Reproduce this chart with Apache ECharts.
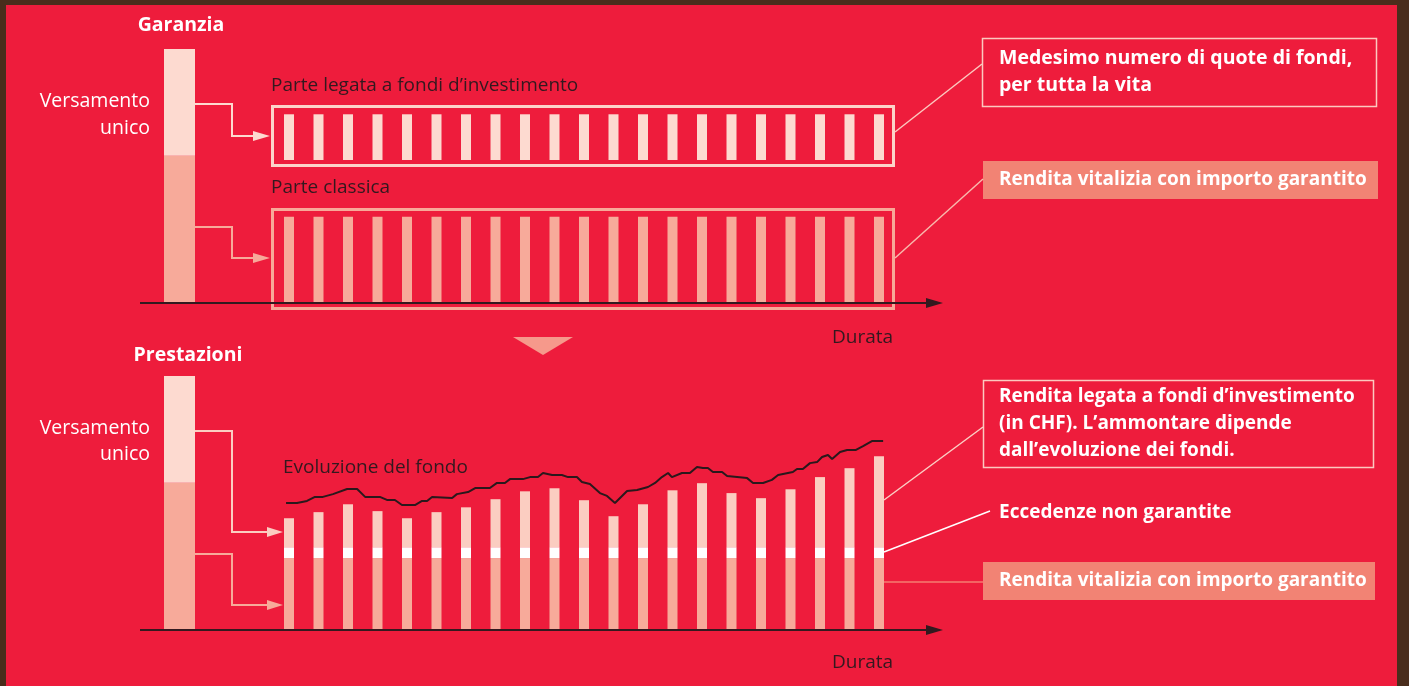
<!DOCTYPE html>
<html>
<head>
<meta charset="utf-8">
<title>Garanzia e prestazioni</title>
<script src="https://cdn.jsdelivr.net/npm/echarts@6/dist/echarts.min.js"></script>
<style>
  html, body { margin: 0; padding: 0; background: #4a2d1c; }
  #main { width: 1409px; height: 686px; }
</style>
</head>
<body>
<div id="main"></div>
<script>
var years = ['1','2','3','4','5','6','7','8','9','10','11','12','13','14','15','16','17','18','19','20','21'];

// versamento unico: parte classica + parte fondi
var singleClassic = [58];
var singleFund = [42];

// garanzia
var classicRent = [34,34,34,34,34,34,34,34,34,34,34,34,34,34,34,34,34,34,34,34,34];
var fundUnits = [18,18,18,18,18,18,18,18,18,18,18,18,18,18,18,18,18,18,18,18,18];

// prestazioni
var guaranteed = [28.3,28.3,28.3,28.3,28.3,28.3,28.3,28.3,28.3,28.3,28.3,28.3,28.3,28.3,28.3,28.3,28.3,28.3,28.3,28.3,28.3];
var surplus = [4.3,4.3,4.3,4.3,4.3,4.3,4.3,4.3,4.3,4.3,4.3,4.3,4.3,4.3,4.3,4.3,4.3,4.3,4.3,4.3,4.3];
var fundRent = [11.4,13.8,16.9,14.2,11.4,13.8,15.7,18.9,22.0,23.2,18.5,12.2,16.9,22.4,25.2,21.3,19.3,22.8,27.6,31.1,35.8];

// evoluzione del fondo [anno, valore]
var fundPath = [
  [-0.10,50.0],[0.27,50.0],[0.61,50.8],[0.88,52.4],[1.15,52.4],[1.49,53.5],[1.97,55.5],[2.31,55.5],
  [2.58,52.4],[3.08,52.4],[3.32,51.2],[3.59,51.2],[3.83,49.2],[4.27,49.2],[4.51,50.8],[4.68,50.8],
  [4.85,52.4],[5.53,52.0],[5.69,53.5],[6.07,54.3],[6.31,55.9],[6.81,55.9],[7.05,57.9],[7.32,57.9],
  [7.49,59.4],[7.93,59.4],[8.17,60.2],[8.44,60.2],[8.61,61.8],[8.92,61.0],[9.25,61.0],[9.46,60.2],
  [9.76,60.2],[9.93,58.3],[10.20,57.5],[10.54,53.9],[10.78,52.8],[11.05,50.0],[11.46,54.7],[11.80,55.1],
  [12.17,56.3],[12.41,57.9],[12.64,60.2],[12.85,61.8],[12.98,60.2],[13.32,61.8],[13.59,61.8],[13.83,64.2],
  [14.03,63.8],[14.20,63.8],[14.37,62.2],[14.68,62.2],[14.85,60.6],[15.53,59.8],[15.73,57.9],[16.07,57.9],
  [16.37,59.1],[16.58,61.0],[17.08,62.2],[17.22,63.4],[17.42,63.4],[17.66,65.7],[17.90,66.1],[18.07,68.1],
  [18.27,68.9],[18.41,67.3],[18.68,70.1],[18.92,70.9],[19.22,70.9],[19.46,72.4],[19.76,74.4],[20.14,74.4]
];

var fundUnitsBase = 56.3;

var RED = '#ee1c3c';
var LIGHT = '#fddad0';
var LIGHT2 = '#fbcdc1';
var SALMON = '#f7aa9a';
var BOXFILL = '#f28374';
var DARK = '#33191f';
var FONT = "'Open Sans', sans-serif";

var chart = echarts.init(document.getElementById('main'), null, { renderer: 'canvas' });

function hiddenCat(grid) {
  return { type: 'category', gridIndex: grid, data: null, show: false, boundaryGap: true };
}
function hiddenVal(grid) {
  return { type: 'value', gridIndex: grid, min: 0, max: 100, show: false };
}
function txt(x, y, s, opt) {
  opt = opt || {};
  return {
    type: 'text', x: x, y: y, z: 50,
    style: {
      text: s,
      fill: opt.fill || '#ffffff',
      font: (opt.weight || 'normal') + ' ' + (opt.size || 19) + 'px ' + FONT,
      align: opt.align || 'left',
      verticalAlign: opt.va || 'middle',
      lineHeight: opt.lh || 27
    }
  };
}
function line(points, color, w) {
  return { type: 'polyline', z: 40, shape: { points: points }, style: { stroke: color, lineWidth: w || 1.5, fill: null } };
}
function tri(points, color) {
  return { type: 'polygon', z: 40, shape: { points: points }, style: { fill: color } };
}
function box(x, y, w, h, stroke, lw) {
  return { type: 'rect', z: 30, shape: { x: x, y: y, width: w, height: h }, style: { fill: null, stroke: stroke, lineWidth: lw } };
}
function filled(x, y, w, h, color) {
  return { type: 'rect', z: 30, shape: { x: x, y: y, width: w, height: h }, style: { fill: color } };
}

var xCats = [hiddenCat(0), hiddenCat(1), hiddenCat(2), hiddenCat(3),
  { type: 'value', gridIndex: 3, min: -0.5, max: 20.5, show: false }];
xCats[0].data = ['V'];
xCats[1].data = years;
xCats[2].data = ['V'];
xCats[3].data = years;

var gap = classicRent.map(function (c) { return fundUnitsBase - c; });

var option = {
  backgroundColor: '#4a2d1c',
  animation: false,
  grid: [
    { left: 164, top: 49, width: 31, height: 254 },
    { left: 274.25, top: 49, width: 619.5, height: 254 },
    { left: 164, top: 376, width: 31, height: 254 },
    { left: 274.25, top: 376, width: 619.5, height: 254 }
  ],
  xAxis: xCats,
  yAxis: [hiddenVal(0), hiddenVal(1), hiddenVal(2), hiddenVal(3)],
  series: [
    { type: 'bar', xAxisIndex: 0, yAxisIndex: 0, stack: 'a', barWidth: '100%', data: singleClassic, itemStyle: { color: SALMON } },
    { type: 'bar', xAxisIndex: 0, yAxisIndex: 0, stack: 'a', barWidth: '100%', data: singleFund, itemStyle: { color: LIGHT } },

    { type: 'bar', xAxisIndex: 1, yAxisIndex: 1, stack: 'g', barWidth: 10, data: classicRent, itemStyle: { color: SALMON } },
    { type: 'bar', xAxisIndex: 1, yAxisIndex: 1, stack: 'g', barWidth: 10, data: gap, itemStyle: { color: 'rgba(0,0,0,0)' } },
    { type: 'bar', xAxisIndex: 1, yAxisIndex: 1, stack: 'g', barWidth: 10, data: fundUnits, itemStyle: { color: LIGHT } },

    { type: 'bar', xAxisIndex: 2, yAxisIndex: 2, stack: 'b', barWidth: '100%', data: singleClassic, itemStyle: { color: SALMON } },
    { type: 'bar', xAxisIndex: 2, yAxisIndex: 2, stack: 'b', barWidth: '100%', data: singleFund, itemStyle: { color: LIGHT } },

    { type: 'bar', xAxisIndex: 3, yAxisIndex: 3, stack: 'p', barWidth: 10, data: guaranteed, itemStyle: { color: SALMON } },
    { type: 'bar', xAxisIndex: 3, yAxisIndex: 3, stack: 'p', barWidth: 10, data: surplus, itemStyle: { color: '#ffffff' } },
    { type: 'bar', xAxisIndex: 3, yAxisIndex: 3, stack: 'p', barWidth: 10, data: fundRent, itemStyle: { color: LIGHT2 } },

    { type: 'line', xAxisIndex: 4, yAxisIndex: 3, data: fundPath, showSymbol: false, z: 5,
      lineStyle: { color: '#2a181c', width: 2 } }
  ],
  graphic: [
    { type: 'rect', z: -1, shape: { x: 6, y: 5, width: 1391, height: 681 }, style: { fill: RED } },

    // titoli
    txt(181, 25, 'Garanzia', { weight: 'bold', size: 19.5, align: 'center' }),
    txt(188, 355, 'Prestazioni', { weight: 'bold', size: 19.5, align: 'center' }),
    txt(150, 101, 'Versamento', { size: 19.5, align: 'right' }),
    txt(150, 128, 'unico', { size: 19.5, align: 'right' }),
    txt(150, 428, 'Versamento', { size: 19.5, align: 'right' }),
    txt(150, 454, 'unico', { size: 19.5, align: 'right' }),
    txt(271, 86, 'Parte legata a fondi d\u2019investimento', { fill: DARK, size: 19 }),
    txt(271, 188, 'Parte classica', { fill: DARK, size: 19 }),
    txt(283, 468, 'Evoluzione del fondo', { fill: DARK, size: 19 }),
    txt(832, 338, 'Durata', { fill: DARK, size: 19 }),
    txt(832, 663, 'Durata', { fill: DARK, size: 19 }),

    // riquadri parte fondi / parte classica
    box(272.5, 106.5, 621, 59, '#fcd3c9', 3),
    box(272.5, 209.5, 621, 99, '#f8a898', 3),

    // assi
    line([[140, 303], [930, 303]], DARK, 2),
    tri([[926, 298], [943, 303], [926, 308]], DARK),
    line([[140, 630], [930, 630]], DARK, 2),
    tri([[926, 625], [943, 630], [926, 635]], DARK),

    tri([[513, 337], [573, 337], [543, 355]], '#f6998b'),

    // frecce dal versamento
    line([[195, 104], [232, 104], [232, 136], [256, 136]], LIGHT, 2),
    tri([[253, 131], [270, 136], [253, 141]], LIGHT),
    line([[195, 227], [232, 227], [232, 258], [256, 258]], SALMON, 2),
    tri([[253, 253], [270, 258], [253, 263]], SALMON),
    line([[195, 431], [232, 431], [232, 532], [270, 532]], LIGHT2, 2),
    tri([[267, 527], [283, 532], [267, 537]], LIGHT2),
    line([[195, 554], [232, 554], [232, 605], [270, 605]], SALMON, 2),
    tri([[267, 600], [283, 605], [267, 610]], SALMON),

    // didascalie a destra
    line([[895, 132], [982, 64]], '#fcc9bf', 1.5),
    box(982.5, 38.5, 394, 68, '#fcc9bf', 1.5),
    txt(999, 44.5, 'Medesimo numero di quote di fondi,\nper tutta la vita', { weight: 'bold', size: 19.5, va: 'top' }),

    line([[895, 258], [983, 179]], '#f9b9ac', 1.5),
    filled(983, 161, 395, 38, BOXFILL),
    txt(999, 180, 'Rendita vitalizia con importo garantito', { weight: 'bold', size: 19 }),

    line([[884, 500], [983, 427]], '#fbcfc4', 1.5),
    box(983.5, 380.5, 390, 87, '#fcc9bf', 1.5),
    txt(999, 383.5, 'Rendita legata a fondi d\u2019investimento\n(in CHF). L\u2019ammontare dipende\ndall\u2019evoluzione dei fondi.', { weight: 'bold', size: 19, va: 'top' }),

    line([[884, 552], [990, 511]], '#ffffff', 1.5),
    txt(999, 513, 'Eccedenze non garantite', { weight: 'bold', size: 19 }),

    line([[884, 582], [983, 582]], '#f47c70', 1.5),
    filled(983, 562, 392, 38, BOXFILL),
    txt(999, 581, 'Rendita vitalizia con importo garantito', { weight: 'bold', size: 19 })
  ]
};

chart.setOption(option);
</script>
</body>
</html>
